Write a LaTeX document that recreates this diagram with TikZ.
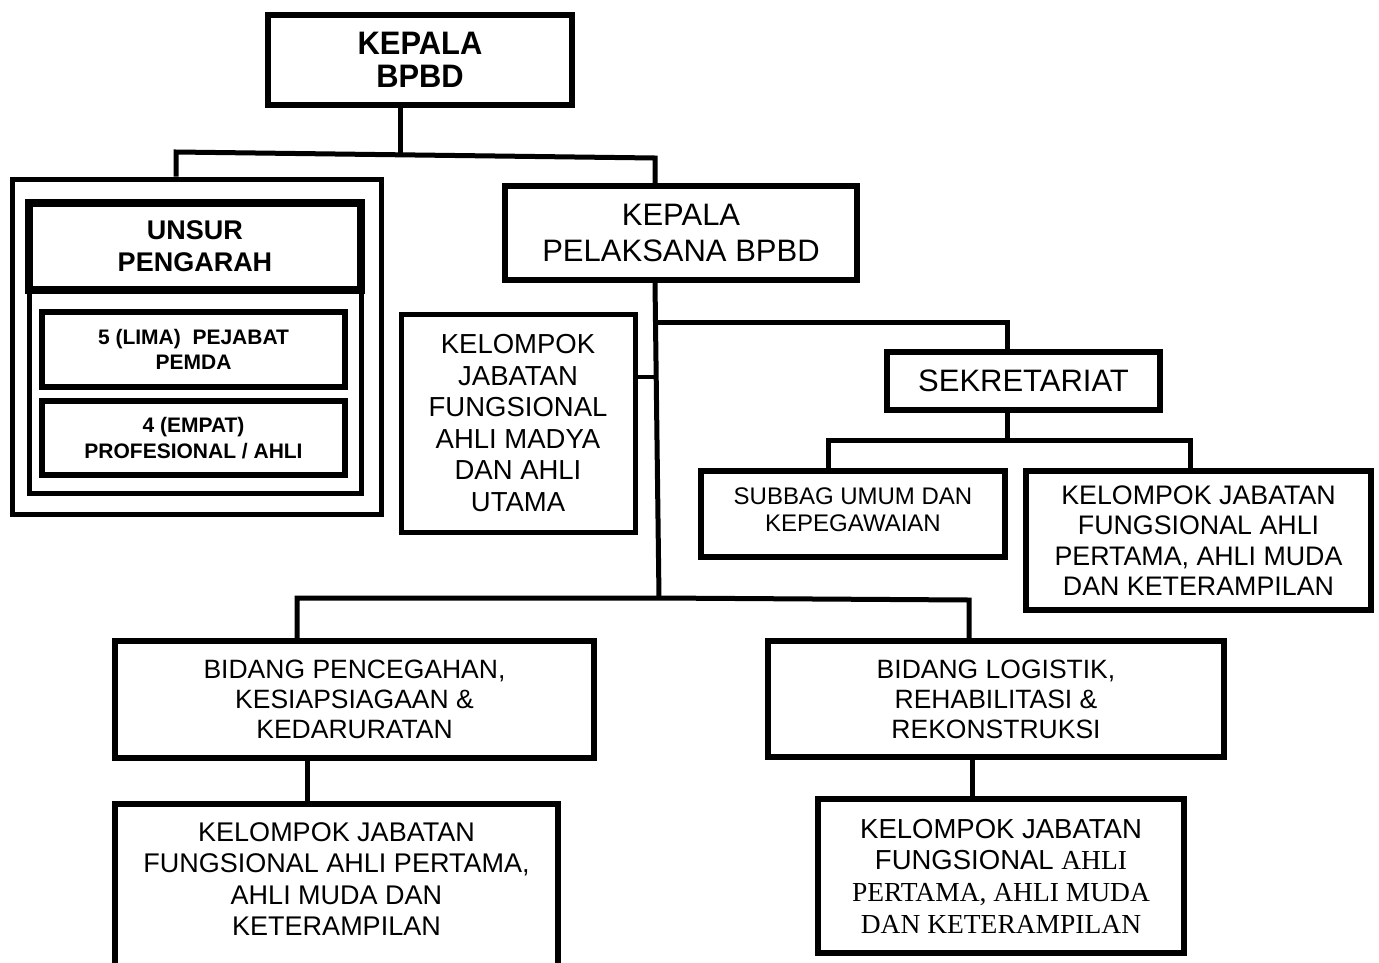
\documentclass[tikz,border=0pt]{standalone}
\usepackage{fontspec}
\setmainfont{Liberation Sans}
\newfontfamily\sansN{Liberation Sans}[FakeStretch=0.95]
\newfontfamily\serifb{Liberation Serif}
\begin{document}
\begin{tikzpicture}[x=1pt,y=-1pt,
  box/.style={draw, line width=5.5pt, inner sep=0pt, align=center},
  conn/.style={line width=5pt, line join=miter},
  thinconn/.style={line width=3.5pt}]
\useasboundingbox (0,0) rectangle (1379,962);
\fill[white] (0,0) rectangle (1379,962);

% top
\node[box, minimum width=304, minimum height=90, font=\sansN\bfseries\fontsize{32.5}{32.5}\selectfont] (kepala) at (420,60) {KEPALA\\BPBD};

% unsur pengarah group
\node[box, line width=5pt, minimum width=369, minimum height=335] (unsur) at (196.5,346.5) {};
\node[box, line width=5pt, minimum width=332, minimum height=205] (unsurbody) at (195,390.5) {};
\node[box, line width=8pt, minimum width=332, minimum height=87, font=\bfseries\fontsize{27}{32}\selectfont] (unsurhead) at (195,246) {UNSUR\\PENGARAH};
\node[box, line width=6pt, minimum width=303, minimum height=75, font=\bfseries\fontsize{21}{25}\selectfont] (lima) at (193.5,349.5) {5 (LIMA)\ \ PEJABAT\\PEMDA};
\node[box, line width=6pt, minimum width=303, minimum height=74, font=\bfseries\fontsize{21}{26}\selectfont] (empat) at (193.5,438) {4 (EMPAT)\\PROFESIONAL / AHLI};

% kepala pelaksana
\node[box, minimum width=352, minimum height=94, font=\fontsize{31}{36}\selectfont] (pelaksana) at (681,233) {KEPALA\\PELAKSANA BPBD};

% madya
\node[box, line width=5pt, minimum width=234, minimum height=218, font=\fontsize{27.5}{31.5}\selectfont] (madya) at (518,423) {KELOMPOK\\JABATAN\\FUNGSIONAL\\AHLI MADYA\\DAN AHLI\\UTAMA};

% sekretariat
\node[box, minimum width=273, minimum height=58, font=\fontsize{31}{36}\selectfont] (sekretariat) at (1023.5,381) {SEKRETARIAT};
\node[box, minimum width=304, minimum height=86] (subbag) at (853,514) {};
\node[align=center, inner sep=0pt, font=\fontsize{24}{27}\selectfont] (subbagtext) at (853,510) {SUBBAG UMUM DAN\\KEPEGAWAIAN};
\node[box, minimum width=345, minimum height=139, font=\fontsize{26.8}{30.5}\selectfont] (kjfr) at (1198.5,540.5) {KELOMPOK JABATAN\\FUNGSIONAL AHLI\\PERTAMA, AHLI MUDA\\DAN KETERAMPILAN};

% bidang
\node[box, minimum width=479, minimum height=117, font=\fontsize{26.5}{30}\selectfont] (pencegahan) at (354.5,699.5) {BIDANG PENCEGAHAN,\\KESIAPSIAGAAN \&\\KEDARURATAN};
\node[box, minimum width=456, minimum height=116, font=\fontsize{26.5}{30}\selectfont] (logistik) at (996,699) {BIDANG LOGISTIK,\\REHABILITASI \&\\REKONSTRUKSI};

% bottom groups
\node[box, minimum width=443, minimum height=166] (kjflbox) at (336.5,887) {};
\node[align=center, inner sep=0pt, font=\fontsize{27}{31.5}\selectfont] (kjfltext) at (336.5,879) {KELOMPOK JABATAN\\FUNGSIONAL AHLI PERTAMA,\\AHLI MUDA DAN\\KETERAMPILAN};
\node[box, minimum width=366, minimum height=154, font=\fontsize{27.5}{31.7}\selectfont] (kjfb) at (1001,876) {KELOMPOK JABATAN\\FUNGSIONAL {\serifb AHLI}\\{\serifb PERTAMA, AHLI MUDA}\\{\serifb DAN KETERAMPILAN}};

% connectors
\coordinate (t1) at (400,155);
\coordinate (hl) at (176,152);
\coordinate (hr) at (655,158);
\draw[conn] (kepala.south -| t1) -- (t1);
\draw[conn] (unsur.north -| hl) -- (hl) -- (hr) -- (pelaksana.north -| hr);

\coordinate (trunkx) at (655,300);
\coordinate (tb) at (659,598);
\draw[conn] (pelaksana.south -| trunkx) -- (tb);

\coordinate (br1) at (656,322);
\coordinate (br2) at (1007,322);
\draw[conn] (br1) -- (br2) -- (sekretariat.north -| br2);

\coordinate (bl1) at (657,377);
\draw[thinconn] (madya.east |- bl1) -- (bl1);

\coordinate (lh1) at (297,598);
\coordinate (lh2) at (969,600);
\draw[conn] (pencegahan.north -| lh1) -- (lh1) -- (tb) -- (lh2) -- (logistik.north -| lh2);

\coordinate (s1) at (1007,440);
\coordinate (s2) at (828,440);
\coordinate (s3) at (1190,440);
\draw[conn] (sekretariat.south -| s1) -- (s1);
\draw[conn] (subbag.north -| s2) -- (s2) -- (s3) -- (kjfr.north -| s3);

\coordinate (p1) at (307,780);
\draw[conn] (pencegahan.south -| p1) -- (kjflbox.north -| p1);
\coordinate (q1) at (972,780);
\draw[conn] (logistik.south -| q1) -- (kjfb.north -| q1);
\end{tikzpicture}
\end{document}
